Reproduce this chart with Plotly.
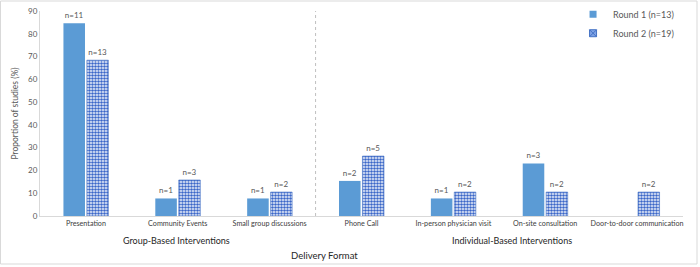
import plotly.graph_objects as go

categories = ["Presentation", "Community Events", "Small group discussions", "Phone Call",
              "In-person physician visit", "On-site consultation", "Door-to-door communication"]
round1 = [84.6, 7.7, 7.7, 15.4, 7.7, 23.1, 0]
round2 = [68.4, 15.8, 10.5, 26.3, 10.5, 10.5, 10.5]
round1_labels = ["n=11", "n=1", "n=1", "n=2", "n=1", "n=3", ""]
round2_labels = ["n=13", "n=3", "n=2", "n=5", "n=2", "n=2", "n=2"]
series_names = ["Round 1 (n=13)", "Round 2 (n=19)"]
y_ticks = [0, 10, 20, 30, 40, 50, 60, 70, 80, 90]

FONT = "Lato, 'Open Sans', sans-serif"
GREY = "#595959"
C1 = "#5B9BD5"
C2 = "#4472C4"

fig = go.Figure()
fig.add_trace(go.Bar(
    x=categories, y=round1, name=series_names[0], showlegend=False,
    marker=dict(color=C1, line=dict(width=0)),
    text=round1_labels, textposition="outside", cliponaxis=False,
    textfont=dict(size=8, color=GREY, family=FONT),
))
fig.add_trace(go.Bar(
    x=categories, y=round2, name=series_names[1], showlegend=False,
    marker=dict(color="#F4F7FD", line=dict(color=C2, width=0.6),
                pattern=dict(shape=".", fgcolor="#3A66C8", bgcolor="#F4F7FD",
                             fgopacity=1, size=3, solidity=0.55)),
    text=round2_labels, textposition="outside", cliponaxis=False,
    textfont=dict(size=8, color=GREY, family=FONT),
))
# legend entries
fig.add_trace(go.Scatter(x=[None], y=[None], mode="markers", name=series_names[0],
                         marker=dict(symbol="square", size=7, color=C1)))
fig.add_trace(go.Scatter(x=[None], y=[None], mode="markers", name=series_names[1],
                         marker=dict(symbol="square-x", size=7, color="#7fa3e6",
                                     line=dict(color=C2, width=1))))

fig.update_layout(
    width=700, height=267,
    margin=dict(l=40, r=17, t=11, b=51, autoexpand=False),
    paper_bgcolor="white", plot_bgcolor="white",
    font=dict(family=FONT, color=GREY, size=8),
    barmode="group", bargap=0.49, bargroupgap=0.08,
    showlegend=True,
    legend=dict(x=0.829, y=1.055, xanchor="left", yanchor="top",
                font=dict(size=9, color=GREY, family=FONT),
                bgcolor="rgba(0,0,0,0)", itemwidth=30, tracegroupgap=0),
    xaxis=dict(showline=True, linecolor="#D9D9D9", linewidth=1, ticks="", tickangle=0,
               automargin=False, tickfont=dict(size=7.2, color="#404040"), showgrid=False),
    yaxis=dict(range=[0, 90], tickvals=y_ticks, showline=True, linecolor="#D9D9D9",
               linewidth=1, showgrid=False, zeroline=False, ticks="", automargin=False,
               tickfont=dict(size=8, color=GREY),
               title=dict(text="Proportion of studies (%)", font=dict(size=8.5, color=GREY), standoff=8)),
)

fig.add_shape(type="line", xref="x", yref="paper", x0=2.5, x1=2.5, y0=0, y1=1,
              line=dict(color="#BFBFBF", width=1, dash="dot"))

fig.add_annotation(text="Group-Based Interventions", xref="paper", yref="paper",
                   x=(176 - 40) / 643, y=-0.085, xanchor="center", yanchor="top", showarrow=False,
                   font=dict(size=9, color="#262626", family=FONT))
fig.add_annotation(text="Individual-Based Interventions", xref="paper", yref="paper",
                   x=(512 - 40) / 643, y=-0.085, xanchor="center", yanchor="top", showarrow=False,
                   font=dict(size=9, color="#262626", family=FONT))
fig.add_annotation(text="Delivery Format", xref="paper", yref="paper",
                   x=(324 - 40) / 643, y=-0.155, xanchor="center", yanchor="top", showarrow=False,
                   font=dict(size=9.5, color="#262626", family=FONT))

fig.add_shape(type="rect", xref="paper", yref="paper",
              x0=-39.5 / 643, x1=(697 - 40) / 643, y0=-(264 - 216) / 205, y1=(216 - 1) / 205,
              line=dict(color="#D9D9D9", width=1), fillcolor="rgba(0,0,0,0)", layer="below")

fig.write_html("out.html", config={"displayModeBar": False},
               post_script="document.body.style.margin='0';document.body.style.overflow='hidden';")
